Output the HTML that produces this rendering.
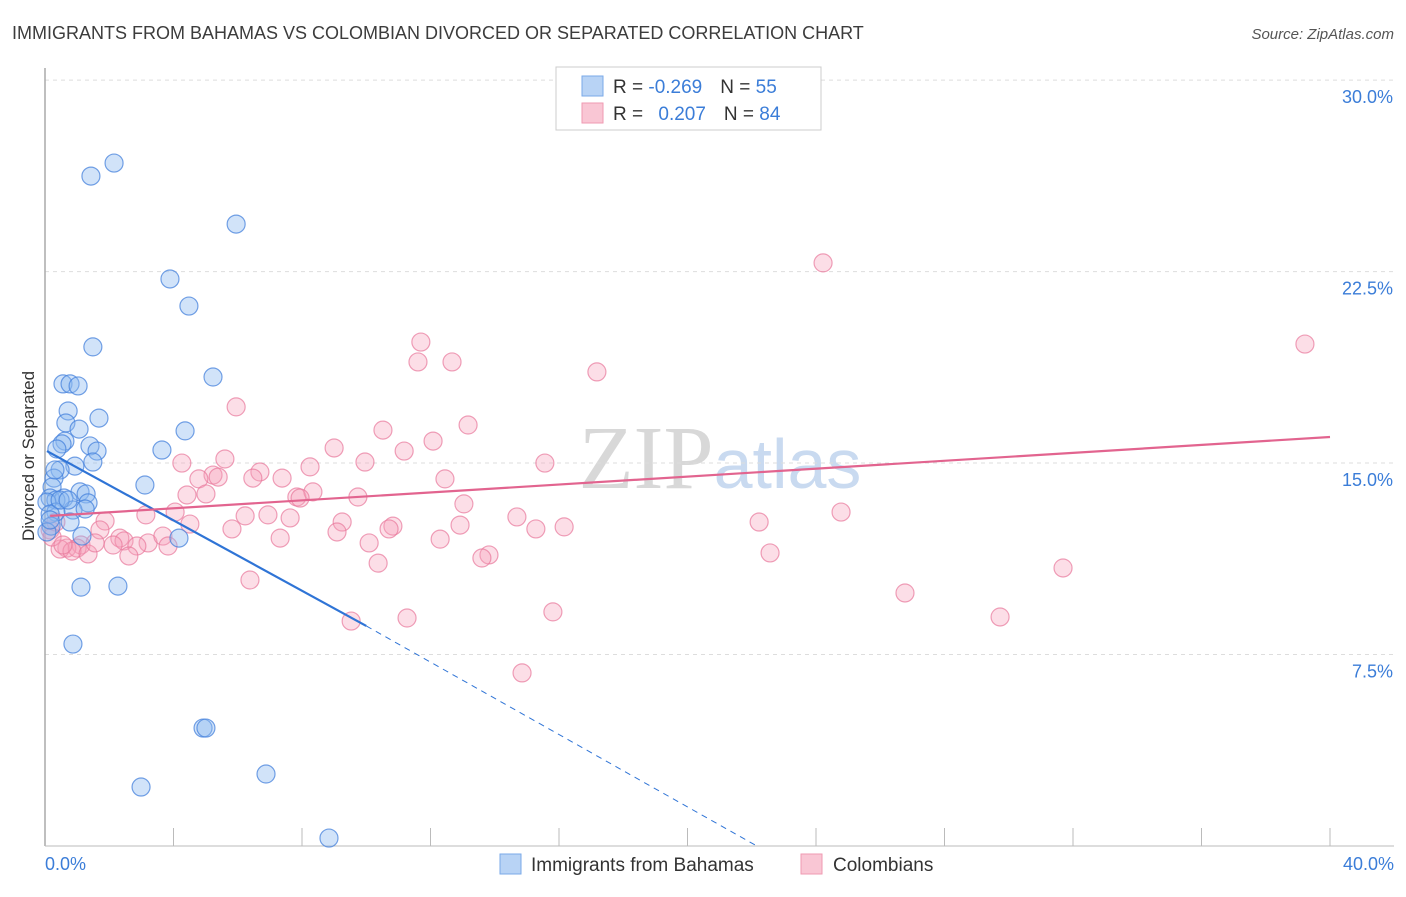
<!DOCTYPE html>
<html><head><meta charset="utf-8"><style>
body{margin:0;background:#fff;font-family:"Liberation Sans",sans-serif}
</style></head><body>
<svg id="chart" width="1406" height="892" xmlns="http://www.w3.org/2000/svg" font-family="Liberation Sans, sans-serif">
<text x="12" y="39" font-size="18" fill="#3c3c3c">IMMIGRANTS FROM BAHAMAS VS COLOMBIAN DIVORCED OR SEPARATED CORRELATION CHART</text>
<text x="1394" y="39" font-size="15" fill="#555" font-style="italic" text-anchor="end">Source: ZipAtlas.com</text>
<text x="720" y="488" font-size="90" text-anchor="middle"><tspan fill="#d8d8d8" font-family="Liberation Serif, serif">ZIP</tspan><tspan fill="#c9daf0" font-size="70">atlas</tspan></text>
<g id="grid"></g>
<line x1="45" y1="68" x2="45" y2="846" stroke="#aaa" stroke-width="1.5"/>
<line x1="45" y1="846" x2="1394" y2="846" stroke="#bbb" stroke-width="1"/>
<text transform="translate(34,456) rotate(-90)" font-size="17" fill="#333" text-anchor="middle">Divorced or Separated</text>
<text x="45" y="870" font-size="18" fill="#3b7dd8">0.0%</text>
<text x="1394" y="870" font-size="18" fill="#3b7dd8" text-anchor="end">40.0%</text>
<g id="pts"></g>
<g id="trends"></g>
<g>
<rect x="556" y="67" width="265" height="63" fill="#fff" stroke="#ccc"/>
<rect x="582" y="76" width="21" height="20" fill="#b8d3f5" stroke="#7aaae8"/>
<rect x="582" y="103" width="21" height="20" fill="#f9c6d4" stroke="#ef9ab2"/>
<text x="613" y="93" font-size="19" fill="#333">R = <tspan fill="#3b7dd8">-0.269</tspan><tspan dx="18">N = </tspan><tspan fill="#3b7dd8">55</tspan></text>
<text x="613" y="120" font-size="19" fill="#333">R = <tspan fill="#3b7dd8" dx="10">0.207</tspan><tspan dx="18">N = </tspan><tspan fill="#3b7dd8">84</tspan></text>
</g>
<g>
<rect x="500" y="854" width="21" height="20" fill="#b8d3f5" stroke="#7aaae8"/>
<text x="531" y="871" font-size="19" fill="#333">Immigrants from Bahamas</text>
<rect x="801" y="854" width="21" height="20" fill="#f9c6d4" stroke="#ef9ab2"/>
<text x="833" y="871" font-size="19" fill="#333">Colombians</text>
</g>
</svg>
<script>
const yTicks=[7.5,15,22.5,30];
const yTickLabels=["7.5%","15.0%","22.5%","30.0%"];
const xTicks=[0,4,8,12,16,20,24,28,32,36,40];
const blueX=[2.15,1.43,5.95,3.89,4.48,1.49,5.23,0.56,0.78,1.03,0.72,1.68,0.65,1.06,4.36,0.62,0.53,1.40,0.37,1.62,3.64,1.49,0.93,0.47,0.28,0.22,3.11,1.09,1.28,0.16,0.59,0.34,1.34,0.06,0.87,0.34,0.16,1.25,0.78,0.19,0.06,1.15,4.17,1.12,2.27,0.87,4.92,5.01,2.99,6.88,8.84,0.47,0.72,0.16,0.31];
const blueY=[26.75,26.24,24.36,22.21,21.15,19.55,18.37,18.10,18.10,18.02,17.04,16.76,16.57,16.33,16.26,15.86,15.75,15.67,15.55,15.47,15.51,15.04,14.88,14.73,14.41,14.06,14.14,13.87,13.79,13.63,13.63,13.55,13.44,13.47,13.16,13.08,13.00,13.20,12.69,12.53,12.30,12.14,12.06,10.14,10.18,7.91,4.62,4.62,2.31,2.82,0.31,13.55,13.55,12.77,14.73];
const pinkX=[24.22,39.22,11.70,12.67,11.61,17.18,5.95,13.17,10.52,12.08,9.00,11.18,15.56,4.26,5.60,9.96,8.25,5.23,6.69,7.38,5.39,6.47,12.45,4.79,4.42,5.01,7.84,8.34,7.94,9.74,13.04,24.78,6.23,6.94,3.14,7.63,22.23,14.69,4.05,1.87,9.25,12.92,5.82,10.83,10.71,15.28,16.16,4.51,1.71,9.09,7.32,12.30,10.09,2.33,2.46,3.21,3.67,2.12,2.86,3.83,1.12,0.68,1.00,0.47,0.84,1.34,2.61,13.82,13.60,10.37,22.57,31.69,26.77,15.81,29.73,11.27,9.53,14.85,0.16,0.34,0.22,0.56,1.56,6.38];
const pinkY=[22.84,19.66,19.74,18.96,18.96,18.57,17.20,16.49,16.29,15.86,15.59,15.47,15.00,15.00,15.16,15.04,14.85,14.53,14.65,14.41,14.45,14.41,14.38,14.38,13.75,13.79,13.67,13.87,13.63,13.67,13.40,13.08,12.93,12.97,12.97,12.85,12.69,12.89,13.08,12.73,12.69,12.57,12.42,12.53,12.42,12.42,12.50,12.61,12.38,12.30,12.06,12.02,11.87,12.06,11.95,11.87,12.14,11.79,11.75,11.75,11.79,11.67,11.67,11.63,11.55,11.44,11.36,11.40,11.28,11.08,11.48,10.89,9.91,9.17,8.97,8.93,8.81,6.78,12.38,12.69,12.10,11.79,11.87,10.42];
const blueTrend=[0.06,15.47,10.0,8.62,22.16,0];
const pinkTrend=[0.16,12.93,40,16.02];
const NS="http://www.w3.org/2000/svg";
const xs=v=>45+v*32.125, ys=v=>846-v*25.53;
function mk(tag,attrs,parent){const e=document.createElementNS(NS,tag);for(const k in attrs)e.setAttribute(k,attrs[k]);parent.appendChild(e);return e;}
const grid=document.getElementById('grid');
yTicks.forEach((t,i)=>{
 const l=mk('line',{x1:45,x2:1394,y1:ys(t),y2:ys(t),stroke:'#ddd','stroke-dasharray':'4,4'},grid);
 
 
 const tx=mk('text',{x:1393,y:ys(t)+23,'font-size':18,fill:'#3b7dd8','text-anchor':'end'},grid);
 tx.textContent=yTickLabels[i];
 
 
});
xTicks.forEach(t=>{
 const l=mk('line',{x1:xs(t),x2:xs(t),y1:828,y2:846,stroke:'#bbb'},grid);
 
 
});
const pts=document.getElementById('pts');
pinkX.forEach((x,i)=>{
 const c=mk('circle',{cx:xs(x),cy:ys(pinkY[i]),r:9,fill:'rgba(245,160,185,0.35)',stroke:'rgba(232,120,155,0.7)','stroke-width':1.2},pts);
 
 
});
blueX.forEach((x,i)=>{
 const c=mk('circle',{cx:xs(x),cy:ys(blueY[i]),r:9,fill:'rgba(140,185,240,0.4)',stroke:'rgba(70,130,220,0.75)','stroke-width':1.2},pts);
 
 
});
const tr=document.getElementById('trends');
let a=mk('line',{x1:xs(blueTrend[0]),y1:ys(blueTrend[1]),x2:xs(blueTrend[2]),y2:ys(blueTrend[3]),stroke:'#2f74d6','stroke-width':2.2},tr);


a=mk('line',{x1:xs(blueTrend[2]),y1:ys(blueTrend[3]),x2:xs(blueTrend[4]),y2:ys(blueTrend[5]),stroke:'#2f74d6','stroke-width':1,'stroke-dasharray':'6,5'},tr);


a=mk('line',{x1:xs(pinkTrend[0]),y1:ys(pinkTrend[1]),x2:xs(pinkTrend[2]),y2:ys(pinkTrend[3]),stroke:'#e2648f','stroke-width':2.2},tr);


</script>
</body></html>
